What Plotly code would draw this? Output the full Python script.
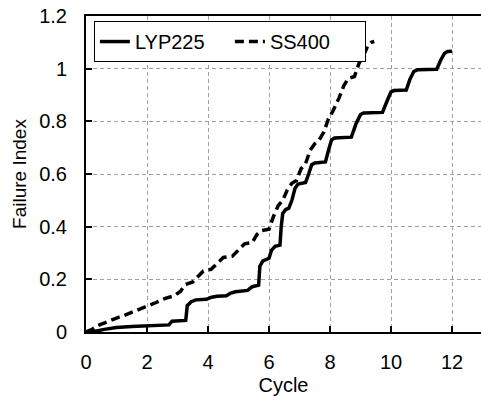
import plotly.graph_objects as go

lyp_x = [0, 0.3, 0.6, 1.0, 1.5, 2.0, 2.5, 2.72, 2.82, 3.0, 3.27, 3.32, 3.45, 3.6, 3.95, 4.12, 4.3, 4.6, 4.75, 4.9, 5.3, 5.45, 5.66, 5.7, 5.8, 6.0, 6.08, 6.2, 6.36, 6.4, 6.45, 6.55, 6.65, 6.75, 6.85, 6.95, 7.2, 7.3, 7.4, 7.5, 7.85, 7.95, 8.05, 8.15, 8.7, 8.85, 9.0, 9.1, 9.72, 9.88, 10.0, 10.1, 10.5, 10.62, 10.75, 10.88, 11.5, 11.62, 11.75, 11.85, 12.0]
lyp_y = [0, 0.003, 0.01, 0.017, 0.021, 0.023, 0.025, 0.027, 0.041, 0.043, 0.044, 0.1, 0.115, 0.122, 0.124, 0.132, 0.136, 0.138, 0.148, 0.153, 0.158, 0.172, 0.178, 0.25, 0.27, 0.28, 0.31, 0.325, 0.33, 0.4, 0.45, 0.465, 0.47, 0.5, 0.545, 0.562, 0.568, 0.6, 0.635, 0.642, 0.646, 0.69, 0.73, 0.737, 0.74, 0.79, 0.826, 0.832, 0.834, 0.88, 0.912, 0.917, 0.919, 0.96, 0.99, 0.996, 0.998, 1.03, 1.058, 1.065, 1.066]

ss_x = [0, 0.2, 0.4, 0.7, 1.0, 1.3, 1.7, 2.0, 2.3, 2.6, 2.9, 3.1, 3.25, 3.5, 3.7, 3.85, 4.1, 4.3, 4.5, 4.8, 5.0, 5.2, 5.45, 5.6, 5.75, 6.0, 6.15, 6.3, 6.45, 6.6, 6.75, 6.9, 7.05, 7.2, 7.35, 7.5, 7.65, 7.8, 7.95, 8.1, 8.3, 8.45, 8.6, 8.8, 8.95, 9.1, 9.25, 9.35, 9.45]
ss_y = [0, 0.01, 0.025, 0.04, 0.053, 0.065, 0.083, 0.098, 0.112, 0.128, 0.138, 0.155, 0.18, 0.19, 0.215, 0.232, 0.238, 0.26, 0.283, 0.288, 0.31, 0.335, 0.34, 0.37, 0.385, 0.39, 0.44, 0.48, 0.5, 0.54, 0.565, 0.575, 0.62, 0.64, 0.69, 0.715, 0.73, 0.76, 0.81, 0.84, 0.89, 0.935, 0.963, 0.97, 1.02, 1.05, 1.09, 1.1, 1.103]

x_ticks = [0, 2, 4, 6, 8, 10, 12]
y_ticks = [0, 0.2, 0.4, 0.6, 0.8, 1.0, 1.2]
y_labels = ["0", "0.2", "0.4", "0.6", "0.8", "1", "1.2"]

FONT = "Arial, Liberation Sans, sans-serif"

fig = go.Figure()
fig.add_trace(go.Scatter(x=lyp_x, y=lyp_y, mode="lines", name="LYP225",
                         line=dict(color="black", width=3.5, dash="solid")))
fig.add_trace(go.Scatter(x=ss_x, y=ss_y, mode="lines", name="SS400",
                         line=dict(color="black", width=3.5, dash="9px,5px")))

fig.update_layout(
    width=481, height=401,
    margin=dict(l=86, r=0, t=16, b=69, autoexpand=False),
    paper_bgcolor="white", plot_bgcolor="white",
    font=dict(family=FONT, size=20, color="black"),
    showlegend=True,
    legend=dict(x=0.02, y=0.984, xanchor="left", yanchor="top",
                orientation="h", bordercolor="black", borderwidth=1,
                bgcolor="white", font=dict(family=FONT, size=20, color="black"),
                entrywidth=90, entrywidthmode="pixels", itemwidth=30),
    xaxis=dict(range=[0, 12.95], tickvals=x_ticks, ticktext=[str(v) for v in x_ticks],
               showgrid=True, gridcolor="#a0a0a0", gridwidth=1, griddash="4px,3px",
               zeroline=False, showline=True, linecolor="black", linewidth=2,
               mirror=True, ticks="inside", ticklen=6, tickwidth=2, tickcolor="black",
               ticklabelstandoff=11,
               title=dict(text="Cycle", font=dict(size=20), standoff=6),
               tickfont=dict(size=20)),
    yaxis=dict(range=[0, 1.2], tickvals=y_ticks, ticktext=y_labels,
               showgrid=True, gridcolor="#a0a0a0", gridwidth=1, griddash="4px,3px",
               zeroline=False, showline=True, linecolor="black", linewidth=2,
               ticks="inside", ticklen=6, tickwidth=2, tickcolor="black",
               ticklabelstandoff=13,
               title=dict(text="Failure Index", font=dict(size=19), standoff=8),
               tickfont=dict(size=20)),
)

fig.write_html("out.html", config={"displayModeBar": False},
               post_script="document.body.style.margin='0';document.body.style.overflow='hidden';")
